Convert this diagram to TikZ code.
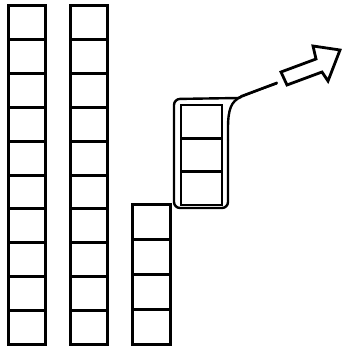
\documentclass[tikz,border=0pt]{standalone}
\begin{document}
\begin{tikzpicture}[x=1pt,y=-1pt,
  cell/.style={draw, line width=3pt, minimum width=37pt, minimum height=33.8pt, inner sep=0pt, outer sep=0pt},
  smallcell/.style={cell, minimum width=38pt, minimum height=35pt},
  grpcell/.style={cell, line width=2.6pt, minimum width=41pt, minimum height=33.3pt},
  outline/.style={line width=2.4pt, line join=round, line cap=round},
  blockarrow/.style={line width=2.8pt, line join=miter, fill=white}]
\useasboundingbox (0,0) rectangle (343,347);
% column 1 and 2 (10 cells)
\foreach \i in {0,...,9}{
  \node[cell] (a\i) at (27,{6+33.8*(\i+0.5)}) {};
  \node[cell] (b\i) at (88.5,{6+33.8*(\i+0.5)}) {};
}
% column 3 (4 cells)
\foreach \i in {0,...,3}{
  \node[smallcell] (c\i) at (151,{204+35*(\i+0.5)}) {};
}
% selected group (3 cells)
\foreach \i in {0,...,2}{
  \node[grpcell] (g\i) at (201.5,{105+33.3*(\i+0.5)}) {};
}
% outline around the group
\coordinate (tailend) at (277,83);
\draw[outline, rounded corners=6pt] (228,140) -- (228,208) -- (174,208) -- (174,99) -- (238,98);
\draw[outline] (228,140) -- (228,128) .. controls (228,110) and (231,101) .. (241,97);
\draw[line width=2.2pt, line cap=round] (238,98) -- (tailend);
\fill (235,99.5) -- (241,95) -- (277,81.5) -- (277,84.5) -- cycle;
% block arrow
\coordinate (A) at (281,72);
\coordinate (B) at (287,85);
\coordinate (C) at (316,59);
\coordinate (D) at (322,72);
\coordinate (E) at (313,46);
\coordinate (F) at (328,81);
\coordinate (G) at (340,50);
\draw[blockarrow] (A) -- (C) -- (E) -- (G) -- (F) -- (D) -- (B) -- cycle;
\end{tikzpicture}
\end{document}
